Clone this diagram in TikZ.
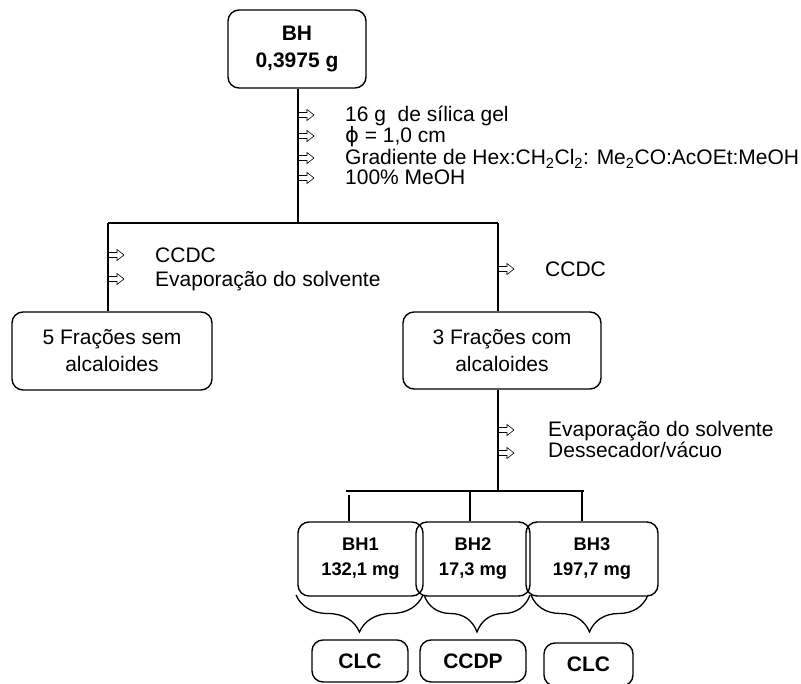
\documentclass[tikz,border=0pt]{standalone}
\usepackage{fontspec}
\setmainfont{Liberation Sans}
\newfontfamily\glyphfont{DejaVu Sans}
\usetikzlibrary{decorations.pathreplacing}
\begin{document}
\begin{tikzpicture}[x=1pt,y=-1pt,
  box/.style={draw,rounded corners=11pt,line width=1.4pt,inner sep=0pt,align=center,
    font=\fontsize{21}{27}\selectfont},
  boldbox/.style={box,font=\fontsize{21}{27}\selectfont\bfseries},
  smallbox/.style={box,font=\fontsize{18.3}{25}\selectfont\bfseries},
  link/.style={line width=1.3pt},
  note/.style={anchor=base west,inner sep=0pt,font=\fontsize{21}{25}\selectfont},
  bracket/.style={decorate,decoration={brace,mirror,amplitude=37pt},line width=1.3pt},
  hollowarrow/.pic={\draw[line width=0.6pt,line join=miter]
     (0,-2.5) -- (9,-2.5) -- (9,-5.5) -- (16,0) -- (9,5.5) -- (9,2.5) -- (0,2.5);}
]
\useasboundingbox (0,0) rectangle (801,684);

% boxes
\node[boldbox,minimum width=138pt,minimum height=78pt] (bh) at (297,49) {BH\\0,3975 g};
\node[box,minimum width=200pt,minimum height=78pt] (sem) at (112,351) {5 Frações sem\\alcaloides};
\node[box,minimum width=198pt,minimum height=77pt] (com) at (502,350.5) {3 Frações com\\alcaloides};
\node[smallbox,minimum width=125pt,minimum height=74pt] (bh1) at (360.5,559) {BH1\\132,1 mg};
\node[smallbox,minimum width=114pt,minimum height=74pt] (bh2) at (473,559) {BH2\\17,3 mg};
\node[smallbox,minimum width=132pt,minimum height=74pt] (bh3) at (592,559) {BH3\\197,7 mg};
\node[boldbox,minimum width=96pt,minimum height=42pt] (clc1) at (360,661) {CLC};
\node[boldbox,minimum width=106pt,minimum height=42pt] (ccdp) at (473,661) {CCDP};
\node[boldbox,minimum width=89pt,minimum height=43pt] (clc2) at (588.5,664.5) {CLC};

% junction points
\coordinate (j0) at (298,223);
\coordinate (jl) at (108,223);
\coordinate (jr) at (498,223);
\coordinate (k0) at (498,491);
\coordinate (kl) at (346,491);
\coordinate (kr) at (584,491);
\coordinate (d1) at (349,495);
\coordinate (d2) at (470,491);
\coordinate (d3) at (582,491);

% connectors
\draw[link] (bh.south -| j0) -- (j0);
\draw[link] (jl) -- (jr);
\draw[link] (jl) -- (jl |- sem.north);
\draw[link] (jr) -- (jr |- com.north);
\draw[link] (com.south -| k0) -- (k0);
\draw[link] (kl) -- (kr);
\draw[link] (d1) -- (d1 |- bh1.north);
\draw[link] (d2) -- (d2 |- bh2.north);
\draw[link] (d3) -- (d3 |- bh3.north);

% braces under the fractions
\draw[bracket] (296,595) -- (423,595);
\draw[bracket] (424,595) -- (530,595);
\draw[bracket] (531,595) -- (648,595);

% conditions, first column
\pic at (298,115) {hollowarrow};
\pic at (298,136) {hollowarrow};
\pic at (298,158) {hollowarrow};
\pic at (298,178) {hollowarrow};
\node[note] (c1) at (345,122) {16 g\ \ de sílica gel};
\node[note] (c2) at (345,143) {{\glyphfont ϕ} = 1,0 cm};
\node[note] (c3) at (345,165) {Gradiente de Hex:CH\textsubscript{2}Cl\textsubscript{2}: Me\textsubscript{2}CO:AcOEt:MeOH};
\node[note] (c4) at (345,185) {100\% MeOH};

% conditions, left branch
\pic at (108,255) {hollowarrow};
\pic at (108,279) {hollowarrow};
\node[note] (l1) at (155,263) {CCDC};
\node[note] (l2) at (155,287) {Evaporação do solvente};

% conditions, right branch
\pic at (498,269) {hollowarrow};
\node[note] (r1) at (545,277) {CCDC};

% conditions before drying
\pic at (498,430) {hollowarrow};
\pic at (498,453) {hollowarrow};
\node[note] (e1) at (548,437) {Evaporação do solvente};
\node[note] (e2) at (548,458) {Dessecador/vácuo};
\end{tikzpicture}
\end{document}
